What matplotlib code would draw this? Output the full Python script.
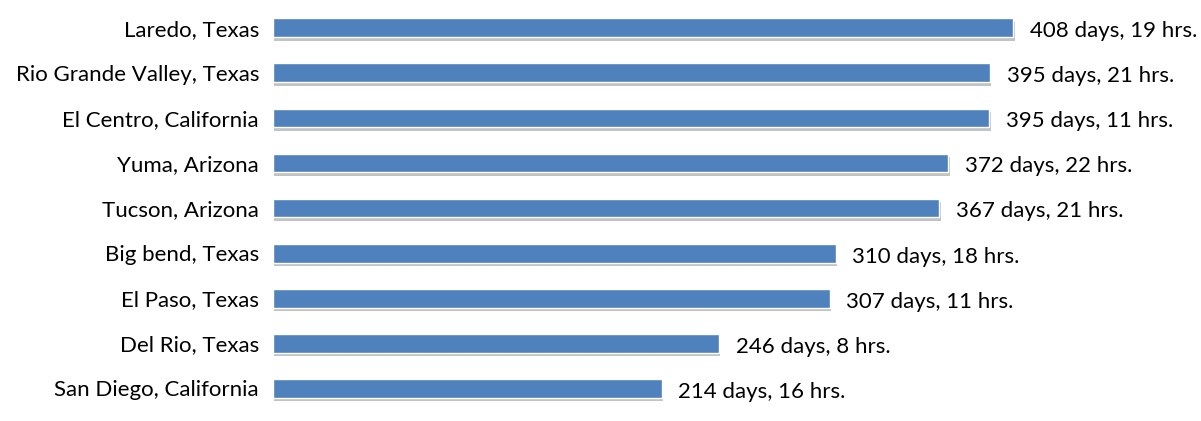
import matplotlib
matplotlib.use("Agg")
import matplotlib.pyplot as plt
import matplotlib.patheffects as pe
from matplotlib.transforms import ScaledTranslation

locations = ["Laredo, Texas", "Rio Grande Valley, Texas", "El Centro, California",
             "Yuma, Arizona", "Tucson, Arizona", "Big bend, Texas", "El Paso, Texas",
             "Del Rio, Texas", "San Diego, California"]
days = [408, 395, 395, 372, 367, 310, 307, 246, 214]
hours = [19, 21, 11, 22, 21, 18, 11, 8, 16]
labels = [f"{d} days, {h} hrs." for d, h in zip(days, hours)]
values = [d + h / 24 for d, h in zip(days, hours)]

plt.rcParams['font.family'] = ['Lato', 'DejaVu Sans']

W, H = 1201, 421
fig = plt.figure(figsize=(W / 100, H / 100), dpi=100)
ax = fig.add_axes([273 / W, 0, (1190 - 273) / W, 1])
ypos = list(range(len(locations)))
bars = ax.barh(ypos, values, height=0.42, color="#4F81BD", edgecolor="white", linewidth=1.0)
for b in bars:
    b.set_path_effects([pe.SimplePatchShadow(offset=(1.0, -2.5), shadow_rgbFace="#7a7a7a", alpha=0.45),
                        pe.Normal()])
for y, v, lab in zip(ypos, values, labels):
    ax.annotate(lab, (v, y), xytext=(12, -2.5), textcoords="offset points",
                va="center", ha="left", fontsize=16, color="black")
ax.set_xlim(0, 917 / 1.811)
ax.set_ylim(8.73, -0.62)
ax.set_yticks(ypos)
ax.set_yticklabels(locations, fontsize=16)
shift = ScaledTranslation(0, -2.5 / 72, fig.dpi_scale_trans)
for t in ax.get_yticklabels():
    t.set_transform(t.get_transform() + shift)
ax.tick_params(axis="y", length=0, pad=10)
ax.set_xticks([])
for s in ax.spines.values():
    s.set_visible(False)
fig.savefig("out.png", dpi=100)
